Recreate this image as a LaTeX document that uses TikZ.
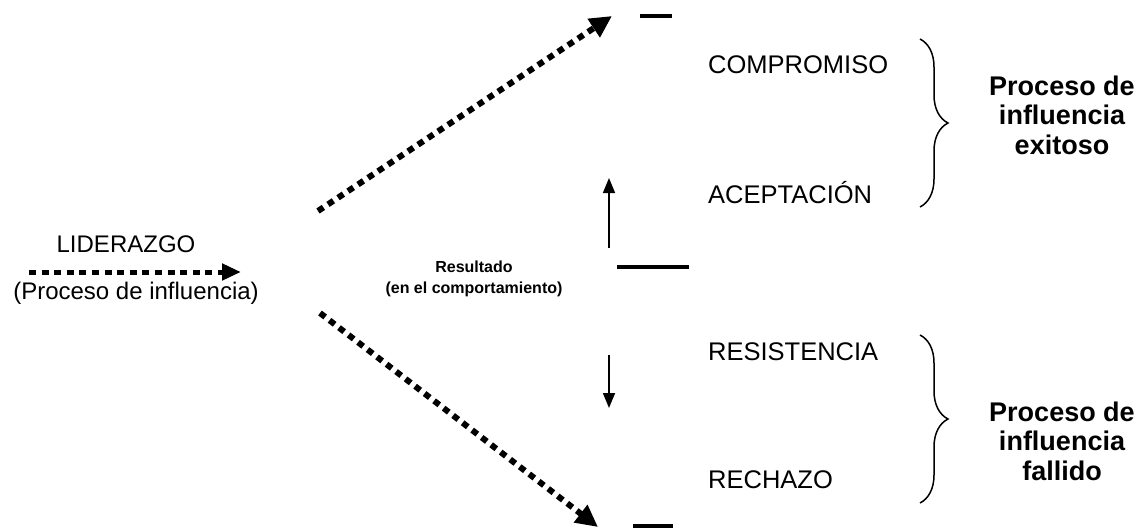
\documentclass[tikz,border=0pt]{standalone}
\usepackage{fontspec}
\setmainfont{Liberation Sans}
\usetikzlibrary{arrows.meta,decorations.pathreplacing}
\begin{document}
\begin{tikzpicture}[x=1pt,y=-1pt,
  lbl/.style={inner sep=0pt,font=\fontsize{25.5}{30}\selectfont},
  leftlbl/.style={inner sep=0pt,font=\fontsize{24}{28}\selectfont},
  reslbl/.style={inner sep=0pt,align=center,font=\bfseries\fontsize{16}{21}\selectfont},
  grouplbl/.style={inner sep=0pt,align=center,font=\bfseries\fontsize{27}{29.5}\selectfont},
  dotarrow/.style={line width=6pt,dash pattern=on 6.5pt off 5.5pt,-{Triangle[length=22pt,width=21pt]}},
  hdotarrow/.style={line width=5pt,dash pattern=on 7pt off 5.6pt,-{Triangle[length=19pt,width=16pt]}},
  thinarrow/.style={line width=1.6pt,-{Triangle[length=15pt,width=12pt]}},
  bar/.style={line width=4pt},
  grpbrace/.style={line width=1.5pt,decorate,decoration={brace,amplitude=28pt}}
]
\useasboundingbox (0,0) rectangle (1144,528);
% left
\node[leftlbl] (lid) at (126,244) {LIDERAZGO};
\node[leftlbl] (proc) at (136,293) {(Proceso de influencia)};
\coordinate (la) at (29,272);
\coordinate (lb) at (241,272);
\draw[hdotarrow] (la) -- (lb);
% diagonals
\coordinate (ua) at (318,211);
\coordinate (ub) at (612,16);
\coordinate (da) at (320,313);
\coordinate (db) at (598,527);
\draw[dotarrow] (ua) -- (ub);
\draw[dotarrow] (da) -- (db);
% bars
\coordinate (t1) at (640,16); \coordinate (t2) at (672,16);
\draw[bar] (t1) -- (t2);
\coordinate (b1) at (633,526); \coordinate (b2) at (673,526);
\draw[bar] (b1) -- (b2);
\coordinate (m1) at (617,267); \coordinate (m2) at (689,267);
\draw[bar] (m1) -- (m2);
% middle arrows
\coordinate (upa) at (609,248); \coordinate (upb) at (609,178);
\draw[thinarrow] (upa) -- (upb);
\coordinate (dna) at (609,355); \coordinate (dnb) at (609,408);
\draw[thinarrow] (dna) -- (dnb);
% result label
\node[reslbl] (res) at (474,279) {Resultado\\(en el comportamiento)};
% outcomes
\node[lbl,anchor=base west] (comp) at (708,73) {COMPROMISO};
\node[lbl,anchor=base west] (acep) at (708,203) {ACEPTACIÓN};
\node[lbl,anchor=base west] (resi) at (708,360) {RESISTENCIA};
\node[lbl,anchor=base west] (rech) at (708,488) {RECHAZO};
% braces
\coordinate (ba1) at (920,39); \coordinate (ba2) at (920,207);
\draw[grpbrace] (ba1) -- (ba2);
\coordinate (bb1) at (920,335); \coordinate (bb2) at (920,503);
\draw[grpbrace] (bb1) -- (bb2);
% group labels
\node[grouplbl] (exi) at (1062,115) {Proceso de\\influencia\\exitoso};
\node[grouplbl] (fal) at (1062,441) {Proceso de\\influencia\\fallido};
\end{tikzpicture}
\end{document}
